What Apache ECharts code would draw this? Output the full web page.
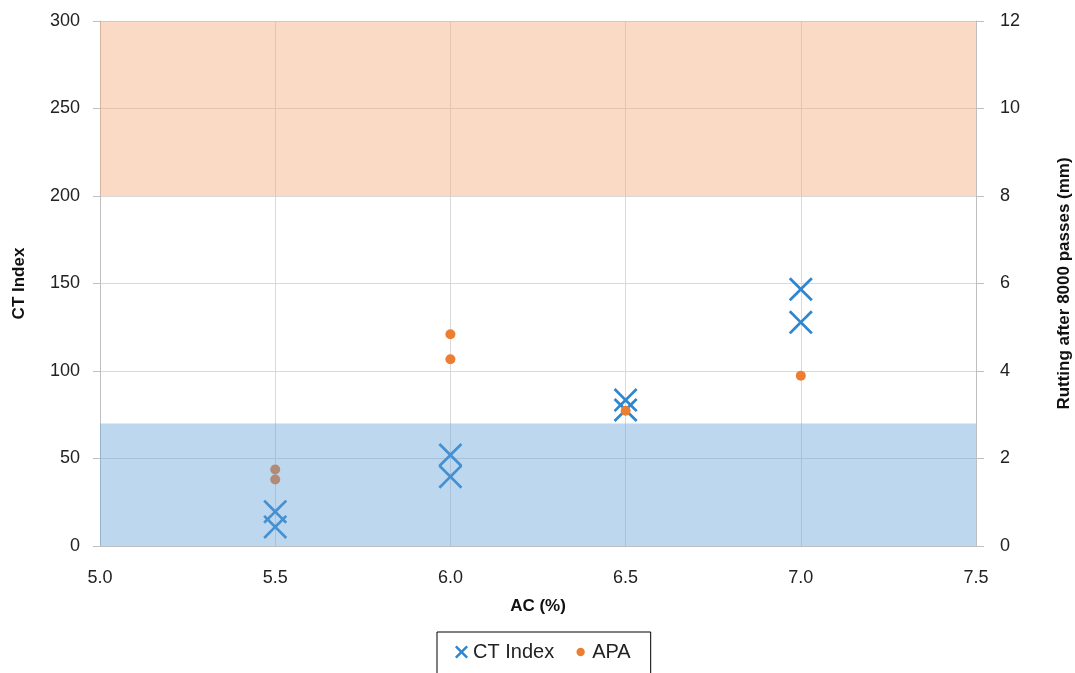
<!DOCTYPE html>
<html><head><meta charset="utf-8">
<script src="https://cdn.jsdelivr.net/npm/echarts@6/dist/echarts.min.js"></script>
<style>html,body{margin:0;padding:0;background:#fff}#c{width:1075px;height:673px}</style>
</head><body><div id="c"></div>
<script>
const ctAC = [5.5, 5.5, 6.0, 6.0, 6.5, 6.5, 7.0, 7.0];
const ctIndex = [19.6, 10.9, 52, 39.6, 83.4, 77.7, 146.7, 127.8];
const apaAC = [5.5, 5.5, 6.0, 6.0, 6.5, 7.0];
const apaRut = [1.75, 1.52, 4.84, 4.27, 3.09, 3.89];
const blueBand = [0, 70];
const orangeBand = [200, 300];

const xPath = 'path://M0,8 L8,0 L50,42 L92,0 L100,8 L58,50 L100,92 L92,100 L50,58 L8,100 L0,92 L42,50 Z';
const xIconPath = 'path://M0,13 L13,0 L50,37 L87,0 L100,13 L63,50 L100,87 L87,100 L50,63 L13,100 L0,87 L37,50 Z';
const dotIcon = 'path://M0,0 M100,100 M50,18 A32,32 0 1 1 49.9,18 Z';
const font = 'Liberation Sans';
const chart = echarts.init(document.getElementById('c'));
chart.setOption({
  animation: false,
  textStyle: {fontFamily: font},
  grid: {left: 100, right: 99, top: 21, bottom: 127, outerBoundsMode: 'none', containLabel: false},
  legend: {
    top: 632, left: 437, itemGap: 20, itemWidth: 13, itemHeight: 13,
    borderColor: '#000', borderWidth: 1, padding: [10, 20, 20, 18],
    textStyle: {fontSize: 20, color: '#222', fontFamily: font},
    data: [{name: 'CT Index', icon: xIconPath}, {name: 'APA', icon: dotIcon}]
  },
  xAxis: {
    type: 'value', min: 5, max: 7.5, interval: 0.5,
    name: 'AC (%)', nameLocation: 'middle', nameGap: 52,
    nameTextStyle: {fontSize: 17, fontWeight: 'bold', color: '#111'},
    axisLine: {show: true, lineStyle: {color: '#bfbfbf'}},
    axisTick: {show: false},
    axisLabel: {fontSize: 18, color: '#222', margin: 23, formatter: v => v.toFixed(1)},
    splitLine: {show: true, lineStyle: {color: '#d9d9d9'}}
  },
  yAxis: [{
    type: 'value', min: 0, max: 300, interval: 50,
    name: 'CT Index', nameLocation: 'middle', nameGap: 72, nameRotate: 90,
    nameTextStyle: {fontSize: 17, fontWeight: 'bold', color: '#111'},
    axisLine: {show: true, lineStyle: {color: '#bfbfbf'}},
    axisTick: {show: true, length: 7, lineStyle: {color: '#bfbfbf'}},
    axisLabel: {fontSize: 18, color: '#222', margin: 20},
    splitLine: {show: true, lineStyle: {color: '#d9d9d9'}}
  }, {
    type: 'value', min: 0, max: 12, interval: 2,
    name: 'Rutting after 8000 passes (mm)', nameLocation: 'middle', nameGap: 80, nameRotate: 90,
    nameTextStyle: {fontSize: 17, fontWeight: 'bold', color: '#111'},
    axisLine: {show: true, lineStyle: {color: '#bfbfbf'}},
    axisTick: {show: true, length: 8, lineStyle: {color: '#bfbfbf'}},
    axisLabel: {fontSize: 18, color: '#222', margin: 24},
    splitLine: {show: false}
  }],
  series: [{
    name: 'CT Index', type: 'scatter', yAxisIndex: 0, z: 2,
    symbol: xPath, symbolSize: 24,
    itemStyle: {color: '#2E86D1', opacity: 1},
    data: ctAC.map((x, i) => [x, ctIndex[i]])
  }, {
    name: 'APA', type: 'scatter', yAxisIndex: 1, z: 3,
    symbol: 'circle', symbolSize: 10,
    itemStyle: {color: '#ED7D31', opacity: 1},
    data: apaAC.map((x, i) => [x, apaRut[i]])
  }, {
    name: 'bands', type: 'scatter', yAxisIndex: 0, z: 4, data: [],
    silent: true,
    markArea: {
      silent: true, z: 4,
      data: [
        [{yAxis: orangeBand[0], xAxis: 5, itemStyle: {color: 'rgba(243,167,114,0.42)'}}, {yAxis: orangeBand[1], xAxis: 7.5}],
        [{yAxis: blueBand[0], xAxis: 5, itemStyle: {color: 'rgba(98,160,214,0.42)'}}, {yAxis: blueBand[1], xAxis: 7.5}]
      ]
    }
  }]
});
</script></body></html>
